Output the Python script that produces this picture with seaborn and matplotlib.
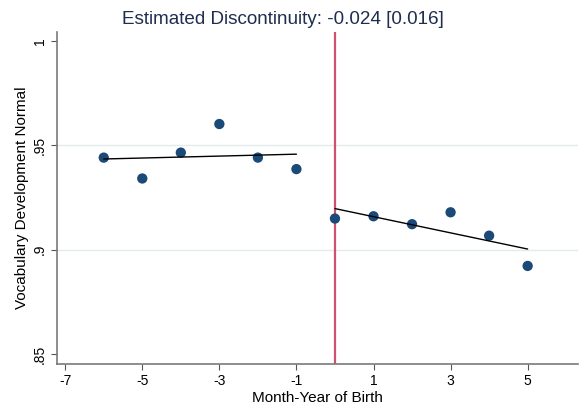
import matplotlib
matplotlib.use("Agg")
import matplotlib.pyplot as plt
import seaborn as sns
import pandas as pd

# Binned means by month-year of birth relative to the cutoff
months_before = [-6, -5, -4, -3, -2, -1]
vocab_before = [0.9441, 0.9341, 0.9465, 0.9602, 0.9441, 0.9386]
months_after = [0, 1, 2, 3, 4, 5]
vocab_after = [0.9149, 0.9160, 0.9122, 0.9179, 0.9067, 0.8922]

x_ticks = [-7, -5, -3, -1, 1, 3, 5]
y_ticks = [0.85, 0.90, 0.95, 1.0]
y_tick_labels = [".85", ".9", ".95", "1"]
title_text = "Estimated Discontinuity: -0.024 [0.016]"

sns.set_theme(style="white")
plt.rcParams["font.family"] = ["Liberation Sans", "DejaVu Sans"]

before = pd.DataFrame({"month": months_before, "vocab": vocab_before})
after = pd.DataFrame({"month": months_after, "vocab": vocab_after})
allpts = pd.concat([before, after], ignore_index=True)

fig = plt.figure(figsize=(5.83, 4.08), dpi=100)
ax = fig.add_axes([0.0973, 0.1078, 0.8937, 0.8138])

navy = "#1b4a78"
for yv in (0.90, 0.95):
    ax.axhline(yv, color="#e2ecef", lw=1.0, zorder=0)

sns.scatterplot(data=allpts, x="month", y="vocab", color=navy, s=55,
                edgecolor="none", ax=ax, zorder=3)
for df in (before, after):
    sns.regplot(data=df, x="month", y="vocab", ci=None, scatter=False,
                color="black", line_kws={"lw": 1.0, "zorder": 4}, ax=ax)

ax.axvline(0, color="#d2506f", lw=1.6, zorder=2)

ax.set_xlim(-7.22, 6.3)
ax.set_ylim(0.8452, 1.0043)
ax.set_xticks(x_ticks)
ax.set_xticklabels([str(t) for t in x_ticks])
ax.set_yticks(y_ticks)
ax.set_yticklabels(y_tick_labels, rotation=90, va="center")

for side in ("top", "right"):
    ax.spines[side].set_visible(False)
for side in ("left", "bottom"):
    ax.spines[side].set_color("#7a7a7a")
    ax.spines[side].set_linewidth(1.2)

ax.tick_params(axis="both", which="major", direction="out", length=4,
               width=0.8, color="#555555", labelsize=10, labelcolor="black",
               bottom=True, left=True, pad=3)

ax.set_xlabel("Month-Year of Birth", fontsize=11, color="black", labelpad=2)
ax.set_ylabel("Vocabulary Development Normal", fontsize=11, color="black", labelpad=3)

fig.text(0.486, 0.942, title_text, ha="center", va="baseline",
         fontsize=13.6, color="#1e2d50")

fig.savefig("out.png", dpi=100)
